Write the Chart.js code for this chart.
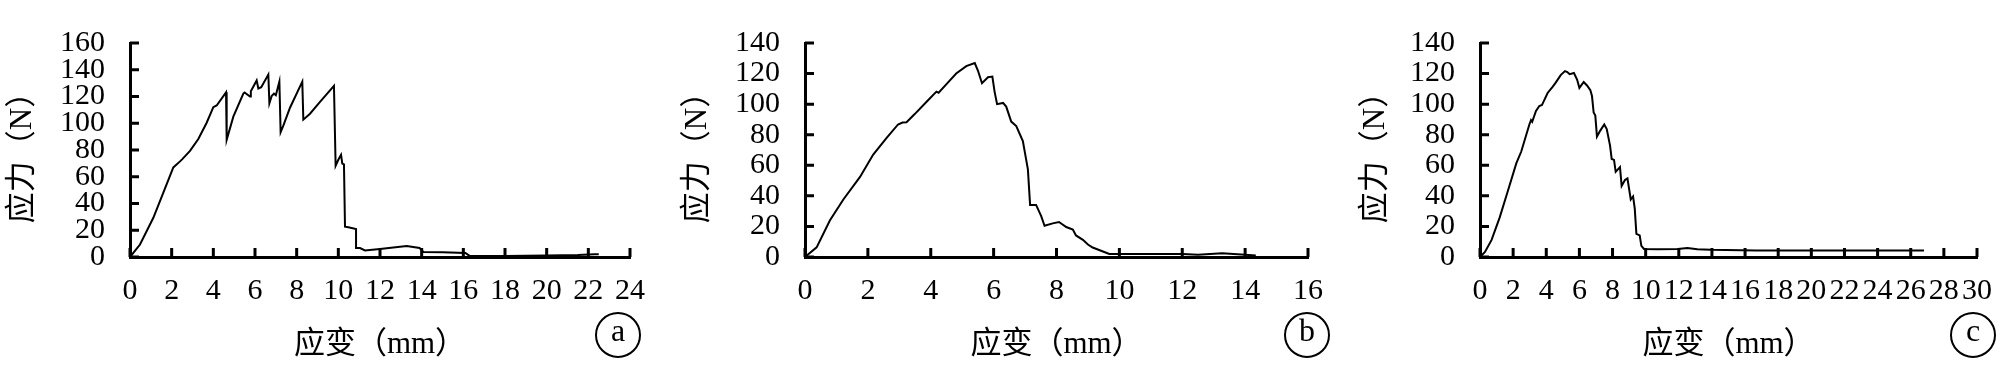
<!DOCTYPE html>
<html>
<head>
<meta charset="utf-8">
<script src="https://cdn.jsdelivr.net/npm/chart.js@4.4.0/dist/chart.umd.min.js"></script>
<style>
  html, body { margin: 0; padding: 0; background: #fff; }
  #wrap { position: relative; width: 2008px; height: 368px; overflow: hidden; }
  canvas { position: absolute; top: 0; }
</style>
</head>
<body>
<div id="wrap">
  <canvas id="chartA" width="670" height="368" style="left:0px"></canvas>
  <canvas id="chartB" width="669" height="368" style="left:670px"></canvas>
  <canvas id="chartC" width="669" height="368" style="left:1339px"></canvas>
</div>
<script>
// sample a
const strainA = [0, 0.48, 1.12, 1.6, 2.08, 2.4, 2.5, 2.88, 3.28, 3.68, 4.0, 4.16, 4.61, 4.64, 4.96, 5.44, 5.5, 5.76, 5.8, 6.08, 6.16, 6.3, 6.64, 6.69, 6.8, 6.91, 7.0, 7.17, 7.23, 7.36, 7.68, 8.27, 8.32, 8.64, 9.12, 9.79, 9.87, 10.0, 10.13, 10.19, 10.27, 10.32, 10.48, 10.85, 10.85, 11.04, 11.28, 12.0, 13.28, 13.9, 14.08, 15.0, 16.1, 16.3, 18, 20, 21.5, 22.3, 22.5];
const stressA = [0, 9.3, 29.3, 48.2, 67, 71.5, 73, 79.3, 88.2, 100.4, 112, 113.3, 123.1, 87.6, 104.9, 122.2, 123, 120, 124, 132, 126, 127, 136.4, 114.9, 120.4, 122.2, 121, 131.1, 93.3, 98.2, 111.6, 131.1, 102.7, 107.1, 116, 128, 68.2, 72.7, 76.4, 69.8, 69.3, 22.7, 22.2, 20.9, 6.7, 6.7, 4.9, 6, 8.2, 6.7, 3.8, 3.5, 3, 0.8, 0.8, 1.2, 1.5, 2, 2];

// sample b
const strainB = [0, 0.37, 0.79, 1.22, 1.75, 2.17, 2.59, 2.96, 3.1, 3.23, 3.49, 3.86, 4.18, 4.25, 4.5, 4.81, 5.13, 5.4, 5.5, 5.63, 5.82, 5.96, 6.03, 6.11, 6.3, 6.4, 6.56, 6.72, 6.93, 7.09, 7.16, 7.35, 7.51, 7.62, 7.88, 8.08, 8.31, 8.52, 8.62, 8.84, 9.0, 9.15, 9.52, 9.68, 10, 12, 12.5, 13.27, 14, 14.34];
const stressB = [0, 6.3, 23.9, 37.6, 52.4, 67, 77.8, 86.7, 88, 88.2, 93.5, 101.4, 108.2, 107.5, 113.1, 120, 124.9, 126.9, 122, 113.7, 117.6, 118, 108.2, 100, 100.8, 98.4, 88.6, 85.7, 75.9, 57.3, 34.1, 34.1, 26.9, 20.4, 22, 22.9, 19.6, 18, 14.1, 11.2, 8.2, 6.2, 3.3, 2, 2, 2, 1.5, 2.5, 1.5, 1];

// sample c
const strainC = [0, 0.3, 0.7, 1.19, 1.69, 2.19, 2.49, 2.98, 3.08, 3.15, 3.38, 3.58, 3.74, 4.08, 4.37, 4.57, 4.87, 5.13, 5.27, 5.41, 5.67, 5.86, 6.0, 6.26, 6.46, 6.66, 6.76, 6.86, 6.96, 7.06, 7.26, 7.5, 7.65, 7.85, 7.95, 8.09, 8.19, 8.45, 8.55, 8.75, 8.9, 9.1, 9.24, 9.34, 9.44, 9.64, 9.74, 9.9, 10.74, 11.93, 12.52, 13.12, 13.92, 16.7, 20, 24, 26.8];
const stressC = [0, 3.3, 11.2, 25.9, 43.5, 61.2, 69, 86.7, 89.6, 88.5, 95.5, 98.8, 99.4, 107.3, 111.2, 114.1, 119, 121.6, 121, 119.6, 120.4, 116.1, 110.6, 114.5, 112.2, 109.2, 105.3, 94.5, 92.5, 78.8, 82.7, 86.7, 83.7, 72.9, 64.1, 63.5, 55.7, 58.8, 46.5, 50.4, 51.4, 37.6, 39.6, 31.8, 15.1, 14.1, 7.3, 5.3, 5.1, 5.3, 5.9, 5.1, 4.7, 4.3, 4.3, 4.3, 4.3];

// axis ranges
const xMaxA = 24, yMaxA = 160;
const xMaxB = 16, yMaxB = 140;
const xMaxC = 30, yMaxC = 140;

const xTitle = '应变（mm）';
const yTitle = '应力（N）';

const serif = '"Liberation Serif", "Times New Roman", "Noto Sans CJK SC", serif';

// inward tick marks + circled panel letter
const inwardTicks = {
    id: 'inwardTicks',
    afterDatasetsDraw(chart, args, opts) {
        const { ctx, chartArea, scales } = chart;
        const x = scales.x, y = scales.y;
        ctx.save();
        ctx.strokeStyle = '#000';
        ctx.lineWidth = 3;
        ctx.beginPath();
        x.ticks.forEach(t => {
            const px = x.getPixelForValue(t.value);
            ctx.moveTo(px, chartArea.bottom);
            ctx.lineTo(px, chartArea.bottom - 9);
        });
        y.ticks.forEach(t => {
            const py = y.getPixelForValue(t.value);
            ctx.moveTo(chartArea.left, py);
            ctx.lineTo(chartArea.left + 9, py);
        });
        ctx.stroke();

        ctx.lineWidth = 2;
        ctx.beginPath();
        ctx.arc(opts.cx, opts.cy, 22, 0, Math.PI * 2);
        ctx.stroke();
        ctx.fillStyle = '#000';
        ctx.font = '32px ' + serif;
        ctx.textAlign = 'center';
        ctx.textBaseline = 'middle';
        ctx.fillText(opts.letter, opts.cx, opts.cy - 2);
        ctx.restore();
    }
};

const createStressChart = (id, xs, ys, xMax, yMax, box) => {
    const canvas = document.getElementById(id);
    const W = canvas.width, H = canvas.height;
    const points = xs.map((v, i) => ({ x: v, y: ys[i] }));
    new Chart(canvas.getContext('2d'), {
        type: 'scatter',
        data: {
            datasets: [{
                data: points,
                showLine: true,
                borderColor: '#000',
                borderWidth: 2,
                pointRadius: 0,
                tension: 0,
                clip: false
            }]
        },
        options: {
            responsive: false,
            animation: false,
            layout: { padding: { left: 0, right: W - box.right, top: box.top, bottom: 0 } },
            plugins: {
                legend: { display: false },
                tooltip: { enabled: false },
                inwardTicks: { cx: box.cx, cy: box.cy, letter: box.letter }
            },
            scales: {
                x: {
                    type: 'linear',
                    min: 0,
                    max: xMax,
                    grid: { display: false, drawTicks: false },
                    border: { display: true, color: '#000', width: 3 },
                    ticks: {
                        stepSize: 2,
                        autoSkip: false,
                        maxRotation: 0,
                        padding: 16,
                        color: '#000',
                        font: { family: serif, size: 30 }
                    },
                    title: {
                        display: true,
                        text: xTitle,
                        color: '#000',
                        padding: { top: 0, bottom: 5 },
                        font: { family: serif, size: 31 }
                    },
                    afterFit: s => { s.height = H - box.bottom; }
                },
                y: {
                    min: 0,
                    max: yMax,
                    grid: { display: false, drawTicks: false },
                    border: { display: true, color: '#000', width: 3 },
                    ticks: {
                        stepSize: 20,
                        autoSkip: false,
                        padding: 25,
                        color: '#000',
                        font: { family: serif, size: 30 }
                    },
                    title: {
                        display: true,
                        text: yTitle,
                        color: '#000',
                        padding: { top: box.yTitlePad, bottom: 0 },
                        font: { family: serif, size: 31 }
                    },
                    afterFit: s => { s.width = box.left; }
                }
            }
        },
        plugins: [inwardTicks]
    });
};

createStressChart('chartA', strainA, stressA, xMaxA, yMaxA,
    { left: 130, right: 630, top: 17, bottom: 257, yTitlePad: 4, cx: 618, cy: 335, letter: 'a' });
createStressChart('chartB', strainB, stressB, xMaxB, yMaxB,
    { left: 135, right: 639, top: 19, bottom: 257, yTitlePad: 9, cx: 637, cy: 335, letter: 'b' });
createStressChart('chartC', strainC, stressC, xMaxC, yMaxC,
    { left: 141, right: 644, top: 19, bottom: 257, yTitlePad: 18, cx: 634, cy: 335, letter: 'c' });
</script>
</body>
</html>
